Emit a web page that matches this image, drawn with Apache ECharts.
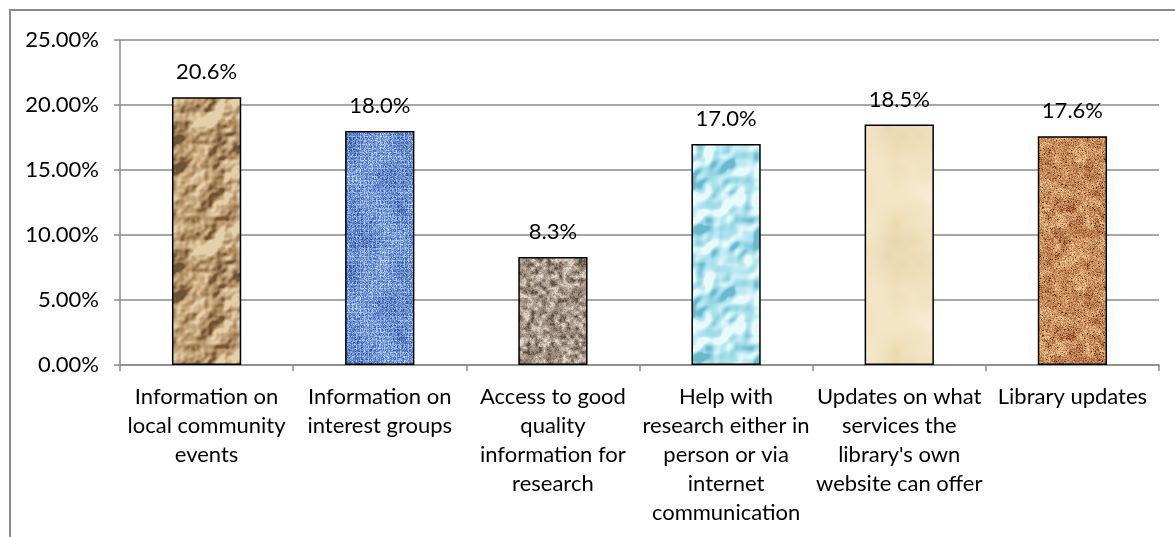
<!DOCTYPE html>
<html>
<head>
<meta charset="utf-8">
<script src="https://cdn.jsdelivr.net/npm/echarts@6/dist/echarts.min.js"></script>
<style>
  html, body { margin: 0; padding: 0; background: #ffffff; }
  #chart { width: 1175px; height: 537px; }
</style>
</head>
<body>
<div id="chart"></div>
<script>
// Survey results: share of respondents interested in each type of library information
const categories = [
  'Information on\nlocal community\nevents',
  'Information on\ninterest groups',
  'Access to good\nquality\ninformation for\nresearch',
  'Help with\nresearch either in\nperson or via\ninternet\ncommunication',
  'Updates on what\nservices the\nlibrary\'s own\nwebsite can offer',
  'Library updates'
];
const shares = [20.6, 18.0, 8.3, 17.0, 18.5, 17.6];
const yTicks = { min: 0, max: 25, step: 5 };

// ---- Texture tiles for the bars (seamless, deterministic) ----
const TILE = 128;
function hash(x, y, s) {
  const h = Math.sin(x * 127.1 + y * 311.7 + s * 74.7) * 43758.5453;
  return h - Math.floor(h);
}
function mod(a, n) { return ((a % n) + n) % n; }
function pnoise(x, y, cell, seed) {
  const period = TILE / cell;
  const gx = x / cell, gy = y / cell;
  const xi = Math.floor(gx), yi = Math.floor(gy);
  const xf = gx - xi, yf = gy - yi;
  const u = xf * xf * (3 - 2 * xf), v = yf * yf * (3 - 2 * yf);
  const x0 = mod(xi, period), x1 = mod(xi + 1, period);
  const y0 = mod(yi, period), y1 = mod(yi + 1, period);
  const a = hash(x0, y0, seed), b = hash(x1, y0, seed);
  const c = hash(x0, y1, seed), d = hash(x1, y1, seed);
  return a + (b - a) * u + (c - a) * v + (a - b - c + d) * u * v;
}
function fbm(x, y, cells, seed) {
  let sum = 0, amp = 1, norm = 0;
  for (let i = 0; i < cells.length; i++) {
    sum += pnoise(x, y, cells[i], seed + i * 13) * amp;
    norm += amp; amp *= 0.5;
  }
  return sum / norm;
}
function hex(c) { return [parseInt(c.slice(1, 3), 16), parseInt(c.slice(3, 5), 16), parseInt(c.slice(5, 7), 16)]; }
function ramp(stops, t) {
  t = Math.max(0, Math.min(1, t));
  const seg = t * (stops.length - 1);
  const i = Math.min(stops.length - 2, Math.floor(seg));
  const f = seg - i;
  const a = stops[i], b = stops[i + 1];
  return [a[0] + (b[0] - a[0]) * f, a[1] + (b[1] - a[1]) * f, a[2] + (b[2] - a[2]) * f];
}
function makeTile(stops, fn) {
  const cols = stops.map(hex);
  const cv = document.createElement('canvas');
  cv.width = TILE; cv.height = TILE;
  const ctx = cv.getContext('2d');
  const img = ctx.createImageData(TILE, TILE);
  for (let y = 0; y < TILE; y++) {
    for (let x = 0; x < TILE; x++) {
      const rgb = ramp(cols, fn(x, y));
      const k = (y * TILE + x) * 4;
      img.data[k] = rgb[0]; img.data[k + 1] = rgb[1]; img.data[k + 2] = rgb[2]; img.data[k + 3] = 255;
    }
  }
  ctx.putImageData(img, 0, 0);
  return cv;
}
function embossed(cells, seed, gain, base) {
  return (x, y) => {
    const n1 = fbm(x - 1, y - 1, cells, seed);
    const n2 = fbm(x + 1, y + 1, cells, seed);
    return base + (n1 - n2) * gain + (fbm(x, y, cells, seed) - 0.5) * 0.35;
  };
}

const textures = [
  // crumpled brown paper
  makeTile(['#6e5234', '#a9875c', '#c9aa80', '#e6d0ab'], embossed([32, 16, 8, 4], 3, 9, 0.55)),
  // blue woven cloth
  makeTile(['#1f3a73', '#4d72b6', '#7ea2de', '#c4d9f6'], (x, y) => {
    const grid = (x % 4 === 0 || y % 4 === 0) ? 0.2 : 0;
    return 0.48 + (hash(x, y, 7) - 0.5) * 0.6 + grid + (pnoise(x, y, 16, 9) - 0.5) * 0.25;
  }),
  // speckled stone
  makeTile(['#5a4e42', '#91826f', '#b3a595', '#e0d8cc'], (x, y) => {
    const n = fbm(x, y, [4, 2], 21);
    return 0.52 + (n - 0.5) * 1.5 + (hash(x, y, 5) - 0.5) * 0.35;
  }),
  // water droplets
  makeTile(['#6ab9cc', '#9bd9e6', '#bce9f1', '#e8fafc'], embossed([16, 8], 11, 6, 0.6)),
  // parchment
  makeTile(['#e0c99a', '#efdfbb', '#f6ead0', '#fbf5e6'], (x, y) => 0.55 + (fbm(x, y, [64, 32, 16, 8], 31) - 0.5) * 1.1),
  // cork
  makeTile(['#5e2a12', '#a8693c', '#cf9865', '#f0c996'], (x, y) => {
    const speck = hash(x, y, 41) > 0.94 ? -0.45 : 0;
    return 0.6 + (hash(x, y, 43) - 0.5) * 0.55 + (fbm(x, y, [8, 4], 47) - 0.5) * 0.6 + speck;
  })
];

const barData = shares.map((v, i) => ({
  value: v,
  itemStyle: { color: { image: textures[i], repeat: 'repeat' } }
}));

const FONT = 'Lato, "Open Sans", sans-serif';
const GRID_COLOR = '#8a8a8a';

const chart = echarts.init(document.getElementById('chart'), null, { renderer: 'canvas' });
chart.setOption({
  animation: false,
  backgroundColor: '#ffffff',
  textStyle: { fontFamily: FONT },
  graphic: [{
    type: 'rect',
    silent: true,
    z: -10,
    shape: { x: 10, y: 10, width: 1200, height: 600 },
    style: { fill: 'none', stroke: GRID_COLOR, lineWidth: 2 }
  }],
  grid: { left: 120, right: 16, top: 40, bottom: 172, containLabel: false },
  xAxis: {
    type: 'category',
    data: categories,
    axisLine: { lineStyle: { color: GRID_COLOR, width: 1.5 } },
    axisTick: { show: true, length: 6, alignWithLabel: false, lineStyle: { color: GRID_COLOR, width: 1.5 } },
    axisLabel: {
      interval: 0, color: '#000', fontSize: 22, lineHeight: 29,
      fontFamily: FONT, margin: 17, align: 'center'
    }
  },
  yAxis: {
    type: 'value',
    min: yTicks.min, max: yTicks.max, interval: yTicks.step,
    axisLine: { show: true, lineStyle: { color: GRID_COLOR, width: 1.5 } },
    axisTick: { show: true, length: 6, lineStyle: { color: GRID_COLOR, width: 1.5 } },
    splitLine: { lineStyle: { color: GRID_COLOR, width: 1.5 } },
    axisLabel: {
      color: '#000', fontSize: 22, fontFamily: FONT, margin: 21,
      formatter: v => v.toFixed(2) + '%'
    }
  },
  series: [{
    type: 'bar',
    data: barData,
    barWidth: '40%',
    itemStyle: { borderColor: '#000', borderWidth: 1.5 },
    label: {
      show: true, position: 'top', distance: 14,
      color: '#000', fontSize: 22, fontFamily: FONT,
      formatter: p => p.value.toFixed(1) + '%'
    }
  }]
});
</script>
</body>
</html>
